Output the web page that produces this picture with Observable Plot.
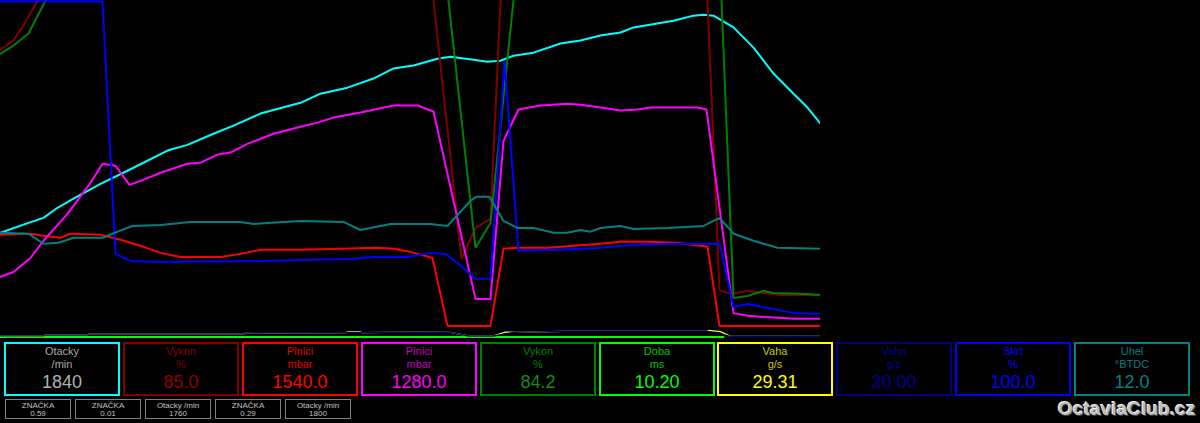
<!DOCTYPE html>
<html><head><meta charset="utf-8">
<script src="https://cdn.jsdelivr.net/npm/d3@7"></script>
<script src="https://cdn.jsdelivr.net/npm/@observablehq/plot@0.6"></script>
<style>
html,body{margin:0;padding:0;background:#000;width:1200px;height:423px;overflow:hidden;font-family:"Liberation Sans",Arial,sans-serif;}
#wrap{position:relative;width:1200px;height:423px;}
#chart{position:absolute;left:0;top:0;}
.box{position:absolute;top:342px;width:112px;height:50px;border:2px solid;}
.box div{position:absolute;left:0;width:100%;text-align:center;white-space:nowrap;}
.l1{top:1px;font-size:11px;line-height:13px;}
.l2{top:14px;font-size:11px;line-height:13px;}
.v{top:28px;font-size:18px;line-height:20px;}
.sbox{position:absolute;top:399px;width:64px;height:18px;border:1px solid #808080;color:#c0c0c0;}
.sbox div{position:absolute;left:0;width:100%;text-align:center;font-size:8px;line-height:9px;white-space:nowrap;}
.s1{top:1px;} .s2{top:9px;}
#wm{position:absolute;left:1058px;top:398px;font-size:19px;font-weight:bold;color:#bdbdbd;text-shadow:-1px -1px 0 #f4f4f4,1px 1px 0 #404040;letter-spacing:0.1px;}
</style></head>
<body><div id="wrap"><div id="chart"></div></div>
<script>
// time in 0.1 s units (0..82), values in % of channel full scale
const otacky = [[0,31.0],[2.8,33.9],[4.3,35.4],[5.7,38.4],[7.3,41.1],[10,45.5],[13.3,50.3],[16.7,55.4],[18.7,57.1],[21.3,60.4],[23.3,62.8],[26,66.4],[30,69.6],[32,72.3],[34.7,74.1],[37.3,76.8],[39.3,79.8],[41.3,80.7],[43.7,82.7],[45,83.3],[47.3,82.4],[48.7,81.8],[50,82.1],[51.3,83.6],[53.3,84.5],[56,87.2],[58,88.1],[60,89.6],[62,90.5],[63.3,92.0],[67.3,94.0],[69.3,95.5],[70.3,95.8],[71.3,95.5],[73.3,92.0],[75.3,86.0],[77.3,78.3],[79.3,72.3],[80.7,68.2],[82,63.4]];
const vykonSpec = [[0,85.4],[1.3,88.1],[2.3,92.6],[3.6,99.4],[4.5,104.5],[10,125],[42.7,116.4],[46.1,23.2],[47.5,32.4],[49,35.1],[50.3,119.3],[60,125],[70.3,128.6],[71.9,14.0],[73,12.8],[74.7,13.7],[78,12.5],[82,12.5]];
const plniciSpec = [[0,30.4],[3,30.7],[4.3,30.1],[6,29.5],[7,30.7],[10,30.4],[12,28.9],[14.3,26.8],[16,25.0],[18,23.8],[22,23.8],[24,24.7],[26,25.9],[30,25.9],[34,26.2],[37.7,26.5],[39.3,26.2],[41,25.3],[43.2,23.5],[44.7,3.3],[49,3.3],[50.3,26.2],[51.7,26.5],[54.7,26.5],[57.3,27.1],[60,27.7],[62,28.3],[64.7,28.3],[67.7,28.0],[70.7,26.8],[71.9,3.3],[82,3.3]];
const plniciSkut = [[0,17.9],[1.3,19.3],[3,23.5],[4.3,28.6],[6.7,36.6],[9,45.8],[10.2,51.5],[11.5,50.9],[12.9,45.2],[14,46.4],[16,48.8],[18.7,51.5],[20,51.8],[21.7,54.2],[23,54.8],[24.7,57.4],[27.3,60.4],[30,62.5],[31.7,63.7],[33.3,65.2],[36,66.7],[39.3,68.8],[41.7,68.8],[43.3,67.0],[47.5,11.3],[49,11.3],[50.3,58.3],[51.8,67.6],[54,68.8],[56.7,69.3],[58,69.0],[60,68.2],[62,67.3],[63.7,67.6],[65,68.2],[68.3,68.2],[69.7,68.2],[70.6,67.6],[73.3,7.1],[74.7,6.3],[79.3,5.4],[82,5.4]];
const vykonSkut = [[0,84.2],[1.3,86.6],[2.8,90.2],[4.4,99.4],[5.5,106],[10,125],[44,121.7],[47.5,26.5],[49,33.9],[52,120.2],[60,125],[71.7,129.5],[73.3,11.6],[74.7,12.2],[76.3,13.7],[77.3,13.1],[80.7,12.8],[82,12.5]];
const doba = [[0,0],[72.3,0]];
const vahaSpec = [[0,0.35],[4.3,0.35],[4.4,0.55],[8.7,0.55],[8.8,0.85],[24.4,0.85],[24.5,1.25],[34.6,1.3],[34.7,1.6],[36,1.6],[36.1,1.3],[41,1.45],[45,1.35],[46.8,0.3],[49.3,0.3],[50.5,1.45],[51.6,1.38],[56.3,1.65],[70.7,1.65],[70.8,1.95],[72,1.6],[73,0.2],[82,0.2]];
const vahaSkut = [[0,0.35],[4.3,0.35],[4.4,0.55],[8.7,0.55],[8.8,0.85],[24.4,0.85],[24.5,1.25],[41,1.45],[45,1.35],[46.8,0.3],[49.3,0.3],[51.3,1.35],[56.3,1.65],[70.7,1.65],[73,0.2],[82,0.2]];
const skrt = [[0,99.7],[10.2,99.7],[11.5,24.7],[13,22.6],[16,22.3],[26.7,22.6],[30,22.9],[35,23.2],[37.3,23.8],[40.7,23.8],[43,25.0],[44.5,24.7],[45.7,22.0],[47.5,17.3],[49,17.3],[50.4,82.1],[51.8,25.6],[56,25.9],[58,26.2],[60,26.5],[63.3,27.4],[66.7,27.7],[71.9,27.7],[73.3,8.9],[74.7,9.8],[79.3,7.1],[82,6.8]];
const uhel = [[0,31.0],[2.8,30.7],[4.3,27.7],[5.8,28.0],[7.3,29.5],[10.2,29.5],[11.7,31.3],[13.2,33.0],[16,33.3],[19,34.2],[24,34.2],[25.3,33.6],[26.7,33.9],[30,34.5],[34.3,34.2],[36,31.8],[39,33.6],[43,33.6],[44.7,33.0],[47,40.5],[47.6,41.7],[48.9,41.7],[50.3,34.5],[51.7,32.4],[53.3,32.4],[55.3,31.0],[56.7,31.0],[58,31.8],[59,31.3],[60,32.4],[62,33.0],[63.3,32.1],[66.7,32.4],[70.3,33.0],[71.9,35.4],[73.3,30.7],[75.3,28.6],[77.7,26.5],[82,26.2]];

const channelNames = ["Otacky","Vykon","Plnici","Plnici","Vykon","Doba","Vaha","Vaha","Skrt","Uhel"];
const channelUnits = ["/min","%","mbar","mbar","%","ms","g/s","g/s","%","°BTDC"];
const channelValues = ["1840","85.0","1540.0","1280.0","84.2","10.20","29.31","30.00","100.0","12.0"];
const lineColors = ["#00ffff","#800000","#ff0000","#ff00ff","#008000","#00ff00","#ffff00","#000080","#0000ff","#008080"];
const labelColors = ["#a8a8a8","#800000","#e00000","#c000c0","#008000","#00c000","#c8c800","#000090","#0000ff","#008080"];
const valueColors = ["#b0b0b0","#900000","#ff0000","#ff00ff","#1a8a1a","#00ff00","#ffff00","#000090","#0000ff","#008080"];
const lineWidths = [2, 2, 2, 2, 2, 2, 1.3, 1.3, 2, 2];
const series = [otacky, vykonSpec, plniciSpec, plniciSkut, vykonSkut, doba, vahaSpec, vahaSkut, skrt, uhel];

const markLabels = ["ZNAČKA","ZNAČKA","Otacky /min","ZNAČKA","Otacky /min"];
const markValues = ["0.59","0.01","1760","0.29","1800"];

const chart = Plot.plot({
  width: 820, height: 338,
  marginLeft: 0, marginRight: 0, marginTop: 0, marginBottom: 1.5,
  style: {background: "#000"},
  x: {domain: [0, 82], axis: null},
  y: {domain: [0, 100], axis: null},
  marks: series.map((s, i) => Plot.line(s, {x: d => d[0], y: d => d[1], stroke: lineColors[i], strokeWidth: lineWidths[i], clip: d3.max(s, d => d[1]) > 99, strokeLinejoin: "miter"}))
});
const wrap = document.getElementById("wrap");
document.getElementById("chart").appendChild(chart);

channelNames.forEach((n, i) => {
  const b = document.createElement("div");
  b.className = "box";
  b.style.left = Math.round(4 + i * 118.9) + "px";
  b.style.borderColor = lineColors[i];
  b.innerHTML = `<div class="l1" style="color:${labelColors[i]}">${n}</div><div class="l2" style="color:${labelColors[i]}">${channelUnits[i]}</div><div class="v" style="color:${valueColors[i]}">${channelValues[i]}</div>`;
  wrap.appendChild(b);
});
markLabels.forEach((n, i) => {
  const b = document.createElement("div");
  b.className = "sbox";
  b.style.left = (5 + i * 70) + "px";
  b.innerHTML = `<div class="s1">${n}</div><div class="s2">${markValues[i]}</div>`;
  wrap.appendChild(b);
});
const wm = document.createElement("div");
wm.id = "wm"; wm.textContent = "OctaviaClub.cz";
wrap.appendChild(wm);
</script></body></html>
